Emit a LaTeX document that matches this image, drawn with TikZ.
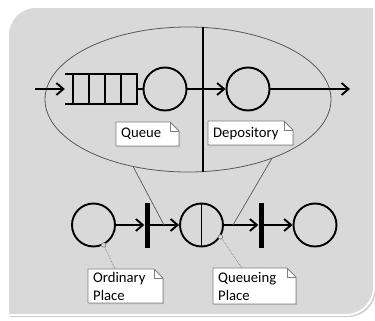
\documentclass[tikz,border=0pt]{standalone}
\usepackage{fontspec}
\setmainfont{Carlito}
\usetikzlibrary{shapes.geometric,arrows.meta,calc}
\definecolor{panelgray}{HTML}{D9D9D9}
\definecolor{linegray}{HTML}{595959}
\definecolor{notegray}{HTML}{7F7F7F}
\tikzset{
  blk/.style={line width=1.9pt, draw=black},
  arr/.style={blk, -{Straight Barb[length=7pt,width=12pt]}},
  place/.style={circle, draw=black, line width=1.9pt, minimum size=43pt, inner sep=0pt},
  trans/.style={rectangle, fill=black, minimum width=5pt, minimum height=45pt, inner sep=0pt},
  zoomline/.style={draw=linegray, line width=0.7pt},
  notetext/.style={anchor=north west, inner xsep=5pt, inner ysep=0pt, align=left,
                   font=\fontsize{14.7}{18}\selectfont},
  noteframe/.style={draw=notegray, line width=0.8pt},
  noteshadow/.style={fill=black!25},
  notelink/.style={draw=notegray, line width=0.7pt, densely dotted},
  pin/.style={circle, draw=notegray, fill=panelgray, minimum size=4.5pt, inner sep=0pt, line width=0.6pt}
}
% #1 name, #2 x, #3 y, #4 width, #5 height, #6 text width, #7 text
\newcommand\mynote[7]{%
  \fill[noteshadow] (#2+1.2,#3+1.2) -- (#2+#4-9+1.2,#3+1.2) -- (#2+#4+1.2,#3+9+1.2)
     -- (#2+#4+1.2,#3+#5+1.2) -- (#2+1.2,#3+#5+1.2) -- cycle;
  \filldraw[noteframe, fill=white] (#2,#3) -- (#2+#4-9,#3) -- (#2+#4,#3+9)
     -- (#2+#4,#3+#5) -- (#2,#3+#5) -- cycle;
  \draw[noteframe] (#2+#4-9,#3) -- (#2+#4-9,#3+9) -- (#2+#4,#3+9);
  \node[notetext, text width=#6pt, minimum height=#5pt] (#1) at (#2,#3) {#7};
}
\begin{document}
\begin{tikzpicture}[x=1pt,y=-1pt]
\useasboundingbox (0,0) rectangle (375,321);
% panel
\fill[black!18] (10,37) .. controls (10,21.5) and (22.5,9) .. (38,9) -- (376,9) -- (376,289)
   .. controls (376,304.5) and (363.5,317) .. (348,317) -- (10,317) -- cycle;
\filldraw[fill=panelgray, draw=white, line width=1.8pt]
   (8,35) .. controls (8,19.5) and (20.5,7) .. (36,7) -- (374,7) -- (374,287)
   .. controls (374,302.5) and (361.5,315) .. (346,315) -- (8,315) -- cycle;
% zoom ellipse
\node[ellipse, draw=linegray, line width=0.8pt, minimum width=286pt, minimum height=145pt, inner sep=0pt] (ell) at (188,99.5) {};
\coordinate (dt) at (203,27.4);
\coordinate (db) at (203,171.6);
\draw[blk] (dt) -- (db);
% top row
\coordinate (in) at (35,89);
\node[inner sep=0pt, minimum width=72pt, minimum height=30pt] (q) at (101,89) {};
\draw[blk] (65,74) -- (137,74) -- (137,104) -- (65,104);
\foreach \x in {73,89,105,121} \draw[blk] (\x,74) -- (\x,104);
\node[place] (c1) at (165,89) {};
\node[place] (c2) at (248,89) {};
\coordinate (out) at (350,89);
\draw[arr] (in) -- (q.west);
\draw[blk] (q.east) -- (c1.west);
\draw[arr] (c1.east) -- (c2.west);
\draw[arr] (c2.east) -- (out);
% notes in ellipse
\mynote{nq}{116}{122}{63}{24}{53}{Queue}
\mynote{nd}{208}{121}{85}{24}{75}{Depository}
% bottom row
\node[place] (pA) at (93.5,225) {};
\node[trans] (t1) at (147,225) {};
\node[place] (pB) at (201.5,225) {};
\node[trans] (t2) at (261,225) {};
\node[place] (pC) at (315,225) {};
\draw[arr] (pA) -- (t1);
\draw[arr] (t1) -- (pB);
\draw[blk] (pB.north) -- (pB.south);
\draw[arr] (pB) -- (t2);
\draw[arr] (t2) -- (pC);
% zoom lines
\coordinate (zl1) at (133,166.4);
\coordinate (zl2) at (164,225);
\coordinate (zr1) at (272,158.2);
\coordinate (zr2) at (233,225);
\draw[zoomline] (zl1) -- (zl2);
\draw[zoomline] (zr1) -- (zr2);
% bottom notes
\mynote{no}{88}{269}{75}{34}{65}{Ordinary\\Place}
\mynote{nqp}{213}{268}{83}{36}{73}{Queueing\\Place}
\node[pin] (s1) at (pA.-63) {};
\node[pin] (s2) at (pB.-32) {};
\draw[notelink] (s1) -- ($(no.north west)+(27,0)$);
\draw[notelink] (s2) -- ($(nqp.north west)+(29,0)$);
\end{tikzpicture}
\end{document}
